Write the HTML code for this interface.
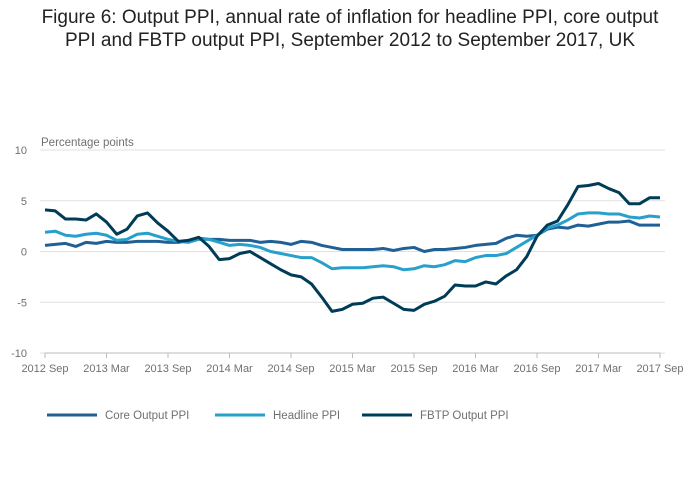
<!DOCTYPE html>
<html><head><meta charset="utf-8"><style>
body{margin:0;background:#fff;font-family:"Liberation Sans",sans-serif}
#wrap{position:relative;width:700px;height:502px}
h1{position:absolute;top:6px;left:0;width:700px;margin:0;text-align:center;font-weight:normal;font-size:19px;line-height:23px;color:#222}
</style></head><body>
<div id="wrap">
<h1>Figure 6: Output PPI, annual rate of inflation for headline PPI, core output<br>PPI and FBTP output PPI, September 2012 to September 2017, UK</h1>
<svg id="chart" width="700" height="502" style="position:absolute;left:0;top:0"></svg>
</div>
<script>
const xTickLabels=["2012 Sep","2013 Mar","2013 Sep","2014 Mar","2014 Sep","2015 Mar","2015 Sep","2016 Mar","2016 Sep","2017 Mar","2017 Sep"];
const yTicks=[10,5,0,-5,-10];
const core=[0.6,0.7,0.8,0.5,0.9,0.8,1.0,0.9,0.9,1.0,1.0,1.0,0.9,0.9,1.1,1.3,1.2,1.2,1.1,1.1,1.1,0.9,1.0,0.9,0.7,1.0,0.9,0.6,0.4,0.2,0.2,0.2,0.2,0.3,0.1,0.3,0.4,0.0,0.2,0.2,0.3,0.4,0.6,0.7,0.8,1.3,1.6,1.5,1.6,2.2,2.4,2.3,2.6,2.5,2.7,2.9,2.9,3.0,2.6,2.6,2.6];
const headline=[1.9,2.0,1.6,1.5,1.7,1.8,1.6,1.1,1.2,1.7,1.8,1.5,1.2,1.0,0.9,1.2,1.2,0.9,0.6,0.7,0.6,0.4,0.0,-0.2,-0.4,-0.6,-0.6,-1.1,-1.7,-1.6,-1.6,-1.6,-1.5,-1.4,-1.5,-1.8,-1.7,-1.4,-1.5,-1.3,-0.9,-1.0,-0.6,-0.4,-0.4,-0.2,0.4,1.0,1.6,2.3,2.6,3.1,3.7,3.8,3.8,3.7,3.7,3.4,3.3,3.5,3.4];
const fbtp=[4.1,4.0,3.2,3.2,3.1,3.7,2.9,1.7,2.2,3.5,3.8,2.8,2.0,1.0,1.1,1.4,0.5,-0.8,-0.7,-0.2,0.0,-0.6,-1.2,-1.8,-2.3,-2.5,-3.2,-4.5,-5.9,-5.7,-5.2,-5.1,-4.6,-4.5,-5.1,-5.7,-5.8,-5.2,-4.9,-4.4,-3.3,-3.4,-3.4,-3.0,-3.2,-2.4,-1.8,-0.5,1.5,2.6,3.0,4.6,6.4,6.5,6.7,6.2,5.8,4.7,4.7,5.3,5.3];
const seriesNames=["Core Output PPI","Headline PPI","FBTP Output PPI"];
const colors=["#206095","#27a0cc","#003c57"];
const NS="http://www.w3.org/2000/svg";
const svg=document.getElementById('chart');
const x=i=>45+i*(615/60);
const y=v=>251.5-v*10.15;
function mk(t,a){const e=document.createElementNS(NS,t);for(const k in a)e.setAttribute(k,a[k]);svg.appendChild(e);return e;}
yTicks.forEach(v=>{
 const g=mk('line',{x1:40,x2:665,y1:y(v),y2:y(v),stroke:'#e0e0e0','stroke-width':1});
 
 
 const t=mk('text',{x:27,y:y(v)+4,'font-size':11,fill:'#707070','text-anchor':'end'});t.textContent=v;
 
 
});
const yt=mk('text',{x:41,y:146,'font-size':11.5,fill:'#707070'});yt.textContent='Percentage points';


const ax=mk('line',{x1:45,x2:660,y1:353,y2:353,stroke:'#bbb'});


xTickLabels.forEach((l,k)=>{
 const xx=x(k*6);
 const tk=mk('line',{x1:xx,x2:xx,y1:353,y2:358,stroke:'#bbb'});
 
 
 const t=mk('text',{x:xx,y:372,'font-size':11,fill:'#707070','text-anchor':'middle'});t.textContent=l;
 
 
});
[core,headline,fbtp].forEach((s,si)=>{
 const p=mk('polyline',{points:s.map((v,i)=>x(i)+','+y(v)).join(' '),fill:'none',stroke:colors[si],'stroke-width':3,'stroke-linejoin':'round'});
 
 
});
const lx=[47,215,362];
seriesNames.forEach((n,i)=>{
 const l=mk('line',{x1:lx[i],x2:lx[i]+50,y1:415,y2:415,stroke:colors[i],'stroke-width':3});
 
 
 const t=mk('text',{x:lx[i]+58,y:419,'font-size':11.5,fill:'#707070'});t.textContent=n;
 
 
});
</script>
</body></html>
